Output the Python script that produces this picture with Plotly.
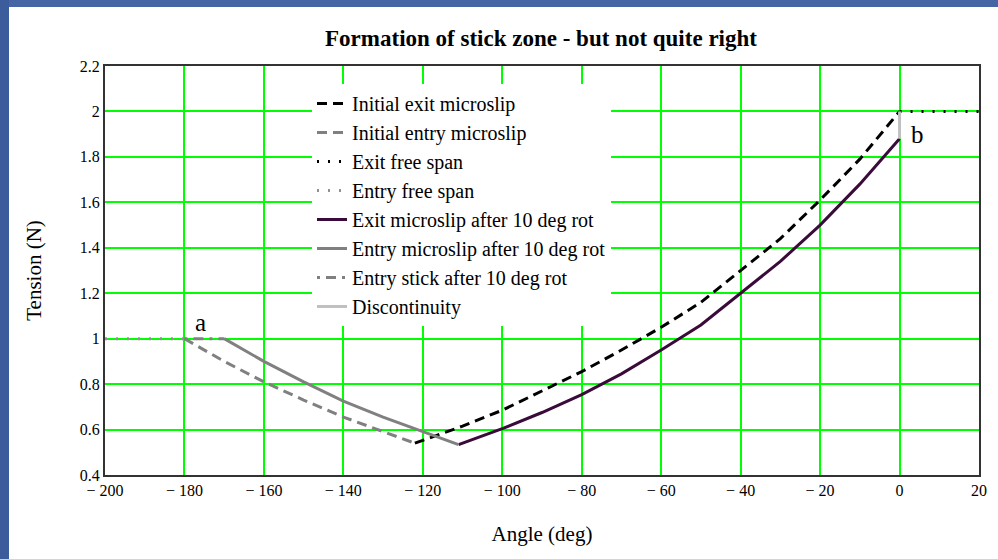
import plotly.graph_objects as go

# ---- data ----
init_exit_x = [-122, -110, -100, -90, -80, -70, -60, -50, -40, -30, -20, -10, 0]
init_exit_y = [0.54, 0.615, 0.685, 0.77, 0.855, 0.95, 1.05, 1.16, 1.30, 1.44, 1.61, 1.79, 2.0]

init_entry_x = [-180, -176, -170, -160, -150, -140, -130, -122]
init_entry_y = [1.0, 0.96, 0.90, 0.81, 0.73, 0.655, 0.59, 0.54]

exit_free_x = [0, 20]
exit_free_y = [2.0, 2.0]

entry_free_x = [-200, -180]
entry_free_y = [1.0, 1.0]

exit_rot_x = [-111, -100, -90, -80, -70, -60, -50, -40, -30, -20, -10, 0]
exit_rot_y = [0.534, 0.604, 0.675, 0.754, 0.845, 0.95, 1.06, 1.20, 1.34, 1.50, 1.68, 1.88]

entry_rot_x = [-170, -160, -150, -140, -130, -120, -111]
entry_rot_y = [1.0, 0.90, 0.81, 0.725, 0.655, 0.59, 0.534]

entry_stick_x = [-180, -170]
entry_stick_y = [1.0, 1.0]

disc_x = [0, 0]
disc_y = [1.88, 2.0]

x_ticks = [-200, -180, -160, -140, -120, -100, -80, -60, -40, -20, 0, 20]
x_tick_text = ["\u2212 200", "\u2212 180", "\u2212 160", "\u2212 140", "\u2212 120", "\u2212 100",
               "\u2212 80", "\u2212 60", "\u2212 40", "\u2212 20", "0", "20"]
y_ticks = [0.4, 0.6, 0.8, 1.0, 1.2, 1.4, 1.6, 1.8, 2.0, 2.2]
y_tick_text = ["0.4", "0.6", "0.8", "1", "1.2", "1.4", "1.6", "1.8", "2", "2.2"]

FONT = "Liberation Serif"

series = [
    ("Initial exit microslip", init_exit_x, init_exit_y, "black", "10px,6px", 3),
    ("Initial entry microslip", init_entry_x, init_entry_y, "#808080", "10px,6px", 3),
    ("Exit free span", exit_free_x, exit_free_y, "black", "2px,9px", 3),
    ("Entry free span", entry_free_x, entry_free_y, "#9a8a9a", "2px,9px", 3),
    ("Exit microslip after 10 deg rot", exit_rot_x, exit_rot_y, "#3a0a3a", "solid", 3),
    ("Entry microslip after 10 deg rot", entry_rot_x, entry_rot_y, "#808080", "solid", 3),
    ("Entry stick after 10 deg rot", entry_stick_x, entry_stick_y, "#808080", "3px,6px,10px,6px", 3),
    ("Discontinuity", disc_x, disc_y, "#c0c0c0", "solid", 3),
]

fig = go.Figure()
for i, (name, xs, ys, col, dash, w) in enumerate(series):
    fig.add_trace(go.Scatter(
        x=xs, y=ys, mode="lines", name=name, legendgroup="g%d" % i,
        line=dict(color=col, dash=dash, width=w),
    ))

W, H = 998, 559
L, R, T, B = 105, 979, 66, 475

def px_x(p):
    return (p - L) / (R - L)

def px_y(p):
    return (B - p) / (B - T)

shapes = [
    dict(type="rect", xref="paper", yref="paper", x0=px_x(0), x1=px_x(W), y0=px_y(7), y1=px_y(0),
         fillcolor="#4565a5", line=dict(width=0), layer="above"),
    dict(type="rect", xref="paper", yref="paper", x0=px_x(0), x1=px_x(9), y0=px_y(H), y1=px_y(0),
         fillcolor="#3d5c9c", line=dict(width=0), layer="above"),
]

fig.update_layout(
    width=W, height=H,
    margin=dict(l=L, r=W - R, t=T, b=H - B),
    paper_bgcolor="white", plot_bgcolor="white",
    font=dict(family=FONT, color="black", size=15),
    title=dict(text="<b>Formation of stick zone - but not quite right</b>",
               x=px_x(541), xref="paper", xanchor="center",
               y=1 - 38 / H, yref="container", yanchor="middle",
               font=dict(family=FONT, size=23, color="black")),
    xaxis=dict(range=[-200, 20], tickvals=x_ticks, ticktext=x_tick_text,
               showgrid=True, gridcolor="#00ff00", gridwidth=1.5,
               showline=True, linecolor="#333333", linewidth=2, mirror=True,
               zeroline=False, ticks="", tickfont=dict(family=FONT, size=16),
               title=dict(text="Angle (deg)", font=dict(family=FONT, size=21), standoff=28)),
    yaxis=dict(range=[0.4, 2.2], tickvals=y_ticks, ticktext=y_tick_text,
               showgrid=True, gridcolor="#00ff00", gridwidth=1.5,
               showline=True, linecolor="#333333", linewidth=2, mirror=True,
               zeroline=False, ticks="", tickfont=dict(family=FONT, size=16),
               title=dict(text="Tension (N)", font=dict(family=FONT, size=21), standoff=32)),
    legend=dict(x=px_x(312), y=px_y(84), xanchor="left", yanchor="top",
                bgcolor="white", borderwidth=0, tracegroupgap=0, traceorder="grouped",
                font=dict(family=FONT, size=20, color="black")),
    shapes=shapes,
    annotations=[
        dict(x=-176, y=1.07, text="a", showarrow=False, xref="x", yref="y",
             font=dict(family=FONT, size=25, color="black")),
        dict(x=4.5, y=1.90, text="b", showarrow=False, xref="x", yref="y",
             font=dict(family=FONT, size=25, color="black")),
    ],
)

fig.write_html("out.html", config={"displayModeBar": False},
               post_script="document.body.style.margin='0';")
